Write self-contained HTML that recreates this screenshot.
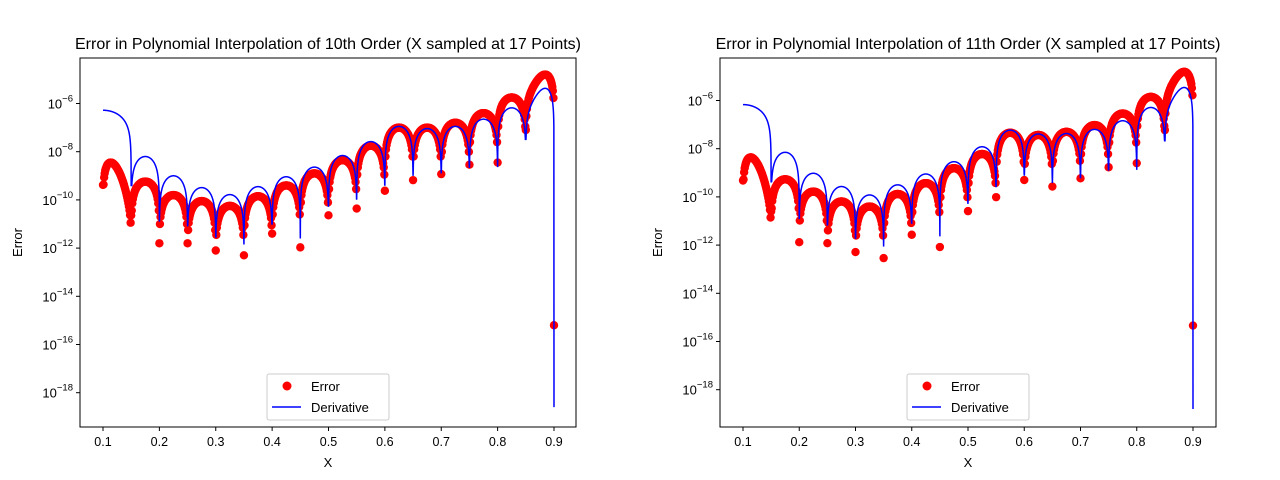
<!DOCTYPE html>
<html><head><meta charset="utf-8">
<style>
body{margin:0;background:#fff;}
svg{display:block;font-family:"Liberation Sans","DejaVu Sans",sans-serif;}
</style></head>
<body>
<svg id="chart" width="1280" height="480" viewBox="0 0 1280 480"></svg>
<script>
// Node x positions (17 points)
const nodesX = [0.1,0.15,0.2,0.25,0.3,0.35,0.4,0.45,0.5,0.55,0.6,0.65,0.7,0.75,0.8,0.85,0.9];
const xTicks = [0.1,0.2,0.3,0.4,0.5,0.6,0.7,0.8,0.9];
const yTicks = [-6,-8,-10,-12,-14,-16,-18];
// Left plot (10th order) — log10 values
const errPeaksL = [-8.45,-9.24,-9.8,-10.05,-10.25,-9.85,-9.4,-8.9,-8.35,-7.75,-7.0,-7.0,-6.8,-6.4,-5.75,-4.8];
const errNodesL = [-9.38,-10.64,-11.8,-11.8,-12.1,-12.3,-11.4,-11.97,-10.64,-10.36,-9.62,-9.18,-8.93,-8.54,-8.45,-7.1,-15.2];
const derPeaksL = [-6.28,-8.2,-9.0,-9.49,-9.78,-9.45,-9.04,-8.64,-8.16,-7.58,-6.95,-7.04,-6.95,-6.65,-6.18,-5.37];
const derDipsL = [-6.28,-9.4,-10.9,-11.07,-11.54,-11.85,-11.0,-11.6,-10.26,-9.99,-9.38,-9.0,-8.9,-8.64,-8.64,-7.49,-18.6];
// Right plot (11th order)
const errPeaksR = [-8.36,-9.27,-9.78,-10.19,-10.4,-9.88,-9.43,-8.81,-8.22,-7.34,-7.43,-7.3,-7.02,-6.54,-5.85,-4.81];
const errNodesR = [-9.32,-10.6,-11.88,-11.92,-12.29,-12.54,-11.57,-12.08,-10.59,-10.01,-9.3,-9.57,-9.23,-8.77,-8.6,-7.23,-15.34];
const derPeaksR = [-6.17,-8.15,-9.02,-9.57,-9.92,-9.5,-9.05,-8.54,-7.92,-7.23,-7.39,-7.37,-7.2,-6.84,-6.29,-5.46];
const derDipsR = [-6.17,-9.37,-10.92,-11.16,-11.71,-12.06,-11.09,-11.64,-10.26,-9.57,-9.09,-9.43,-9.23,-8.88,-8.88,-7.67,-18.8];

const NS="http://www.w3.org/2000/svg";
const svg=document.getElementById('chart');
function mk(tag,attrs,parent){const e=document.createElementNS(NS,tag);for(const k in attrs)e.setAttribute(k,attrs[k]);(parent||svg).appendChild(e);return e;}

function shape(i,t,n,isErr){
  let s=t;
  if(i===n-1) s=t-0.7*Math.sin(Math.PI*t)/Math.PI;
  if(i===0 && isErr) s=t+0.95*Math.sin(Math.PI*t)/Math.PI;
  if(i===0 && !isErr) return Math.cos(Math.PI*t/2);
  return Math.sin(Math.PI*s);
}

function drawPlot(cfg){
  const g=mk('g',{});
  
  
  const L=cfg.left,R=cfg.right,T=58,B=427;
  const xs=v=>cfg.x01+(v-0.1)/0.8*(cfg.x09-cfg.x01);
  const ys=v=>cfg.y6+(-6-v)*cfg.dec;
  const n=cfg.errPeaks.length;
  const cid='clip'+cfg.id;
  const cp=mk('clipPath',{id:cid},g);mk('rect',{x:L,y:T,width:R-L,height:B-T},cp);
  // error dots
  const eg=mk('g',{fill:'#ff0000','clip-path':'url(#'+cid+')'},g);
  
  
  for(let k=0;k<=800;k+=1){
    const x=0.1+k*0.001;let v;
    if(k%50===0){v=cfg.errNodes[k/50];}
    else{const i=Math.floor(k/50),t=(k%50)/50;v=cfg.errPeaks[i]+Math.log10(shape(i,t,n,true));}
    mk('circle',{cx:xs(x).toFixed(2),cy:ys(v).toFixed(2),r:4.2},eg);
  }
  // derivative line
  let d='';
  for(let k=0;k<=3200;k++){
    const x=0.1+k*0.00025;const i=Math.min(Math.floor(k/200),n-1);const t=(k-i*200)/200;
    let v=cfg.derPeaks[i]+Math.log10(Math.max(shape(i,t,n,false),1e-30));
    const near=Math.round(k/200);
    if(near>0) v=Math.max(v,cfg.derDips[near]);
    if(k===0) v=cfg.derDips[0];
    d+=(k?'L':'M')+xs(x).toFixed(2)+','+ys(v).toFixed(2);
  }
  const pl=mk('path',{d:d,fill:'none',stroke:'#0000ff','stroke-width':1.5,'clip-path':'url(#'+cid+')'},g);
  
  
  const fr=mk('rect',{x:L,y:T,width:R-L,height:B-T,fill:'none',stroke:'#000','stroke-width':1},g);
  
  
  xTicks.forEach(v=>{const X=xs(v);mk('line',{x1:X,x2:X,y1:B,y2:B+4,stroke:'#000'},g);
    const tx=mk('text',{x:X,y:B+19,'font-size':12.5,'text-anchor':'middle'},g);tx.textContent=v.toFixed(1);
    
    });
  yTicks.forEach(v=>{const Y=ys(v);mk('line',{x1:L-4,x2:L,y1:Y,y2:Y,stroke:'#000'},g);
    const tx=mk('text',{x:L-7,y:Y+5,'font-size':13,'text-anchor':'end'},g);
    
    
    tx.innerHTML='10<tspan dy="-7" font-size="9.5">\u2212'+Math.abs(v)+'</tspan>';});
  const xl=mk('text',{x:(L+R)/2,y:467,'font-size':13,'text-anchor':'middle'},g);xl.textContent='X';
  
  
  const yl=mk('text',{x:0,y:0,'font-size':13,'text-anchor':'middle',transform:'translate('+(L-58)+','+((T+B)/2)+') rotate(-90)'},g);yl.textContent='Error';
  
  
  const ti=mk('text',{x:(L+R)/2,y:49,'font-size':16,'text-anchor':'middle'},g);ti.textContent=cfg.title;
  
  
  const lg=mk('g',{},g);
  
  
  const lx=cfg.legX;
  mk('rect',{x:lx,y:374,width:122,height:46,rx:2,fill:'#fff','fill-opacity':0.8,stroke:'#ccc'},lg);
  mk('circle',{cx:lx+20,cy:386,r:4.5,fill:'#ff0000'},lg);
  mk('line',{x1:lx+5,x2:lx+34,y1:407,y2:407,stroke:'#0000ff','stroke-width':1.5},lg);
  const t1=mk('text',{x:lx+44,y:391,'font-size':13},lg);t1.textContent='Error';
  
  
  const t2=mk('text',{x:lx+44,y:412,'font-size':13},lg);t2.textContent='Derivative';
  
  
}
drawPlot({id:'L',name:'left-plot',left:80,right:576,x01:103,x09:554,y6:103.5,dec:24.1,
  errPeaks:errPeaksL,errNodes:errNodesL,derPeaks:derPeaksL,derDips:derDipsL,legX:267,
  title:'Error in Polynomial Interpolation of 10th Order (X sampled at 17 Points)'});
drawPlot({id:'R',name:'right-plot',left:720,right:1216,x01:743,x09:1193,y6:100.5,dec:24.1,
  errPeaks:errPeaksR,errNodes:errNodesR,derPeaks:derPeaksR,derDips:derDipsR,legX:907,
  title:'Error in Polynomial Interpolation of 11th Order (X sampled at 17 Points)'});
</script>
</body></html>
